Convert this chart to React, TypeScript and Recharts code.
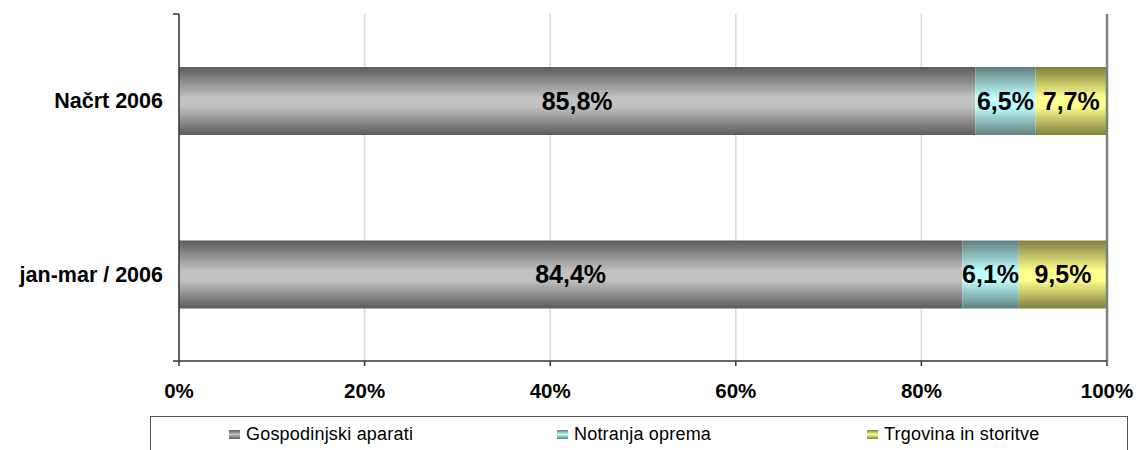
import { BarChart, Bar, XAxis, YAxis, CartesianGrid, LabelList, ReferenceLine } from 'recharts';

const categories = ['Načrt 2006', 'jan-mar / 2006'];
const gospodinjski = [85.8, 84.4];
const notranja = [6.5, 6.1];
const trgovina = [7.7, 9.5];
const xTicks = [0, 20, 40, 60, 80, 100];
const bandEdges = [0, 1, 2];

const seriesNames = ['Gospodinjski aparati', 'Notranja oprema', 'Trgovina in storitve'];

const data = categories.map((name, i) => ({
  name,
  gosp: gospodinjski[i],
  notr: notranja[i],
  trg: trgovina[i],
}));

const font = '"Liberation Sans", Arial, sans-serif';

const gradients = [
  { id: 'gGray', dark: '#5c5c5c', light: '#c2c2c2' },
  { id: 'gCyan', dark: '#5f7f7f', light: '#c0ffff' },
  { id: 'gYellow', dark: '#7f7f3f', light: '#ffff8c' },
];

const fmt = (v: number) => `${v.toFixed(1).replace('.', ',')}%`;

const labelStyle = { fill: '#000', fontSize: 25, fontWeight: 'bold', fontFamily: font };

export default function App() {
  return (
    <div style={{ position: 'absolute', left: 0, top: 0, width: 1140, height: 450, background: '#fff', fontFamily: font }}>
      <BarChart
        width={1140}
        height={450}
        data={data}
        layout="vertical"
        margin={{ top: 14, right: 33, bottom: 49, left: 9 }}
      >
        <defs>
          {gradients.map((g) => (
            <linearGradient key={g.id} id={g.id} x1="0" y1="0" x2="0" y2="1">
              <stop offset="0%" stopColor={g.dark} />
              <stop offset="45%" stopColor={g.light} />
              <stop offset="58%" stopColor={g.light} />
              <stop offset="100%" stopColor={g.dark} />
            </linearGradient>
          ))}
        </defs>
        <CartesianGrid horizontal={false} stroke="#d9d9d9" strokeWidth={1.5} />
        <XAxis
          type="number"
          domain={[0, 100]}
          ticks={xTicks}
          tickFormatter={(v) => `${v}%`}
          height={40}
          tickSize={5}
          tickMargin={17}
          axisLine={{ stroke: '#333', strokeWidth: 1.5 }}
          tickLine={{ stroke: '#333', strokeWidth: 1.5 }}
          tick={{ fill: '#000', fontSize: 20.5, fontWeight: 'bold', fontFamily: font }}
        />
        <YAxis
          type="category"
          dataKey="name"
          width={170}
          tickSize={0}
          tickMargin={16}
          axisLine={{ stroke: '#333', strokeWidth: 1.5 }}
          tickLine={false}
          tick={{ fill: '#000', fontSize: 21.5, fontWeight: 'bold', fontFamily: font }}
        />
        <YAxis yAxisId="b" type="number" domain={[0, 2]} hide />
        <ReferenceLine x={100} stroke="#808080" strokeWidth={2.5} />
        <ReferenceLine yAxisId="b" y={2} stroke="#808080" strokeWidth={2.5} />
        {bandEdges.map((e) => (
          <ReferenceLine
            key={e}
            yAxisId="b"
            ifOverflow="visible"
            stroke="#333"
            strokeWidth={1.5}
            segment={[{ x: -0.65, y: e }, { x: 0, y: e }]}
          />
        ))}
        <Bar dataKey="gosp" stackId="a" barSize={68} fill="url(#gGray)" isAnimationActive={false}>
          <LabelList dataKey="gosp" position="center" formatter={fmt} style={labelStyle} />
        </Bar>
        <Bar dataKey="notr" stackId="a" barSize={68} fill="url(#gCyan)" isAnimationActive={false}>
          <LabelList dataKey="notr" position="center" formatter={fmt} style={labelStyle} />
        </Bar>
        <Bar dataKey="trg" stackId="a" barSize={68} fill="url(#gYellow)" isAnimationActive={false}>
          <LabelList dataKey="trg" position="center" formatter={fmt} style={labelStyle} />
        </Bar>
      </BarChart>
      <div
        style={{
          position: 'absolute',
          left: 150,
          top: 416,
          width: 978,
          height: 44,
          border: '1.5px solid #555',
          boxSizing: 'border-box',
        }}
      >
        {seriesNames.map((name, i) => (
          <div
            key={name}
            style={{
              position: 'absolute',
              left: [78, 406, 716][i],
              top: 7,
              display: 'flex',
              alignItems: 'center',
              fontSize: 18,
              letterSpacing: 0.2,
              color: '#000',
              whiteSpace: 'nowrap',
            }}
          >
            <span
              style={{
                display: 'inline-block',
                width: 11,
                height: 9,
                marginRight: 6,
                background: `linear-gradient(${gradients[i].dark}, ${gradients[i].light}, ${gradients[i].dark})`,
              }}
            />
            {name}
          </div>
        ))}
      </div>
    </div>
  );
}
